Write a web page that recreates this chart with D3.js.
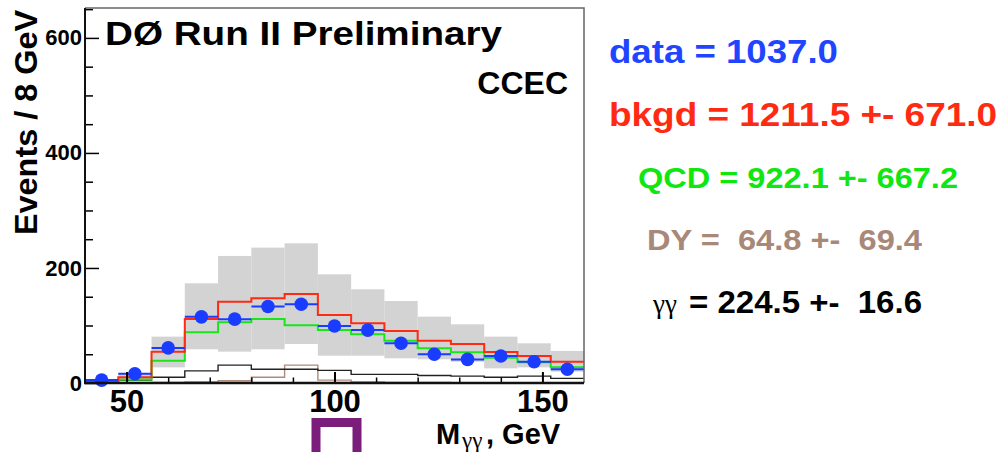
<!DOCTYPE html>
<html>
<head>
<meta charset="utf-8">
<script src="https://cdn.jsdelivr.net/npm/d3@7/dist/d3.min.js"></script>
<style>
  html, body { margin: 0; padding: 0; background: #fff; }
  svg { display: block; font-family: "Liberation Sans", Arial, Helvetica, sans-serif; }
  text { white-space: pre; }
</style>
</head>
<body>
<svg id="chart" width="1004" height="452"></svg>
<script>
// Diphoton invariant mass, CCEC category, 8 GeV bins from 40 to 160 GeV
const binEdges   = [40, 48, 56, 64, 72, 80, 88, 96, 104, 112, 120, 128, 136, 144, 152, 160];
const dataCounts = [5, 16, 61, 115, 111, 133, 137, 99, 92, 69, 50, 41, 47, 37, 24];
const bkgdTotal  = [2, 10, 54.5, 111.3, 141.4, 147.2, 154.8, 118.3, 103.8, 90.4, 73.6, 67.8, 53.9, 47, 37.1];
const qcdBkgd    = [1, 6, 38.8, 88.1, 105.5, 111.3, 100.3, 92.2, 84.6, 73.6, 60.3, 53.3, 44, 36, 27.2];
const dyBkgd     = [0, 0, 1, 2, 4, 10, 31, 5, 2, 1, 1, 0.5, 0.5, 0.5, 0.5];
const diphoton   = [0.5, 5, 10, 21, 31, 24, 24, 22, 15, 15, 13, 12, 10, 12, 8];
const bandUpper  = [4, 16, 80.6, 173.3, 220.9, 235.4, 242.9, 189, 162.9, 142.6, 115.4, 102, 80.6, 69, 55.7];
const bandLower  = [0, 3, 27.2, 58.6, 54.5, 58.6, 67.8, 47.5, 47.5, 42.9, 41.2, 37.1, 25.5, 27.2, 19.7];

const yMajorTicks = [0, 200, 400, 600];
const xMajorTicks = [50, 100, 150];

const titleText  = "DØ Run II Preliminary";
const regionText = "CCEC";
const yAxisTitle = "Events / 8 GeV";
const summaryData = "data = 1037.0";
const summaryBkgd = "bkgd = 1211.5 +- 671.0";
const summaryQcd  = "QCD = 922.1 +- 667.2";
const summaryDy   = "DY =  64.8 +-  69.4";
const summaryGgSymbol = "γγ";
const summaryGg   = "= 224.5 +-  16.6";

const svg = d3.select("#chart");

const x = d3.scaleLinear().domain([40, 160]).range([85, 584]);
const y = d3.scaleLinear().domain([0, 652]).range([383, 8]);

const bins = dataCounts.map((d, i) => ({
  lo: binEdges[i], hi: binEdges[i + 1], mid: (binEdges[i] + binEdges[i + 1]) / 2,
  data: d, up: bandUpper[i], low: bandLower[i]
}));

const plot = svg.append("g");

// uncertainty band on total background
plot.selectAll("rect.band").data(bins).join("rect")
  .attr("class", "band")
  .attr("x", d => x(d.lo))
  .attr("width", d => x(d.hi) - x(d.lo))
  .attr("y", d => y(d.up))
  .attr("height", d => y(d.low) - y(d.up))
  .attr("fill", "#d3d3d3");

// step histograms
const stepLine = d3.line().x(p => x(p[0])).y(p => y(p[1])).curve(d3.curveStepAfter);
function histPoints(values) {
  const pts = values.map((v, i) => [binEdges[i], v]);
  pts.push([binEdges[binEdges.length - 1], values[values.length - 1]]);
  return pts;
}
const histos = [
  { values: dyBkgd,    color: "#b08a78", width: 1.4 },
  { values: diphoton,  color: "#222222", width: 1.4 },
  { values: qcdBkgd,   color: "#19e619", width: 2 },
  { values: bkgdTotal, color: "#ff2a14", width: 2 }
];
histos.forEach(h => {
  plot.append("path")
    .attr("d", stepLine(histPoints(h.values)))
    .attr("fill", "none")
    .attr("stroke", h.color)
    .attr("stroke-width", h.width);
});

// data points with bin-width bars
const blue = "#1a3cff";
plot.selectAll("line.xerr").data(bins).join("line")
  .attr("class", "xerr")
  .attr("x1", d => x(d.lo)).attr("x2", d => x(d.hi))
  .attr("y1", d => y(d.data)).attr("y2", d => y(d.data))
  .attr("stroke", blue).attr("stroke-width", 2);
plot.selectAll("circle.pt").data(bins).join("circle")
  .attr("class", "pt")
  .attr("cx", d => x(d.mid)).attr("cy", d => y(d.data))
  .attr("r", 6.8).attr("fill", blue);

// axes
const fontAxis = g => g.selectAll("text")
  .attr("font-family", "Liberation Sans, Arial, sans-serif")
  .attr("font-weight", "bold").attr("fill", "#000");

const yMajor = d3.axisLeft(y).tickValues(yMajorTicks).tickSize(-14).tickPadding(3).tickFormat(d3.format("d"));
svg.append("g").attr("transform", `translate(${x(40)},0)`)
  .call(yMajor)
  .call(g => g.select(".domain").remove())
  .call(g => g.selectAll("line").attr("stroke", "#000").attr("stroke-width", 1.5))
  .call(g => g.selectAll("text").attr("font-size", 22))
  .call(fontAxis);

const yMinor = d3.axisLeft(y).tickValues(d3.range(50, 651, 50).filter(v => v % 200 !== 0)).tickSize(-8).tickFormat("");
svg.append("g").attr("transform", `translate(${x(40)},0)`)
  .call(yMinor)
  .call(g => g.select(".domain").remove())
  .call(g => g.selectAll("line").attr("stroke", "#000").attr("stroke-width", 1.5));

const xMajor = d3.axisBottom(x).tickValues(xMajorTicks).tickSize(-11).tickPadding(7).tickFormat(d3.format("d"));
svg.append("g").attr("transform", `translate(0,${y(0)})`)
  .call(xMajor)
  .call(g => g.select(".domain").remove())
  .call(g => g.selectAll("line").attr("stroke", "#000").attr("stroke-width", 2))
  .call(g => g.selectAll("text").attr("font-size", 31))
  .call(fontAxis);

const xMinor = d3.axisBottom(x).tickValues(d3.range(50, 160, 10).filter(v => v % 50 !== 0)).tickSize(-5.5).tickFormat("");
svg.append("g").attr("transform", `translate(0,${y(0)})`)
  .call(xMinor)
  .call(g => g.select(".domain").remove())
  .call(g => g.selectAll("line").attr("stroke", "#000").attr("stroke-width", 1.5));

// frame
svg.append("path")
  .attr("d", `M${x(40)},${y(652)} H${x(160)} V${y(0)}`)
  .attr("fill", "none").attr("stroke", "#666").attr("stroke-width", 1.5);
svg.append("line")
  .attr("x1", x(40)).attr("x2", x(40)).attr("y1", y(652)).attr("y2", y(0))
  .attr("stroke", "#111").attr("stroke-width", 2);
svg.append("line")
  .attr("x1", x(40) - 1).attr("x2", x(160)).attr("y1", y(0)).attr("y2", y(0))
  .attr("stroke", "#111").attr("stroke-width", 2.5);

// labels inside the frame
svg.append("text").attr("x", 105).attr("y", 45)
  .attr("font-size", 33).attr("font-weight", "bold")
  .attr("textLength", 397).attr("lengthAdjust", "spacingAndGlyphs")
  .text(titleText);
svg.append("text").attr("x", 568).attr("y", 94).attr("text-anchor", "end")
  .attr("font-size", 32).attr("font-weight", "bold")
  .text(regionText);

// axis titles
svg.append("text")
  .attr("transform", "translate(37,10) rotate(-90)")
  .attr("text-anchor", "end")
  .attr("font-size", 31).attr("font-weight", "bold")
  .attr("textLength", 225).attr("lengthAdjust", "spacingAndGlyphs")
  .text(yAxisTitle);

const xTitle = svg.append("text").attr("y", 444)
  .attr("font-size", 29).attr("font-weight", "bold");
xTitle.append("tspan").attr("x", 436).text("M");
xTitle.append("tspan").attr("x", 462).attr("font-family", "Liberation Serif, serif").attr("font-weight", "normal")
  .attr("font-size", 23).attr("dy", 4).text("γγ");
xTitle.append("tspan").attr("x", 486).attr("dy", -4).text(", GeV");

// marker box under the axis
svg.append("path")
  .attr("d", `M${x(100) - 18.5},460 V422.5 H${x(100) + 22.5} V460`)
  .attr("fill", "none").attr("stroke", "#7b1d7b").attr("stroke-width", 9);

// yield summary
const summary = [
  { t: summaryData, x: 609, y: 63,  size: 32.5, len: 229, color: "#1f45ff" },
  { t: summaryBkgd, x: 609, y: 126, size: 34,   len: 388, color: "#ff2a12" },
  { t: summaryQcd,  x: 638, y: 188, size: 30,   len: 320, color: "#10e610" },
  { t: summaryDy,   x: 647, y: 250, size: 30,   len: 275, color: "#a88878" }
];
summary.forEach(s => {
  svg.append("text").attr("x", s.x).attr("y", s.y)
    .attr("font-size", s.size).attr("font-weight", "bold").attr("fill", s.color)
    .attr("textLength", s.len).attr("lengthAdjust", "spacingAndGlyphs")
    .text(s.t);
});
svg.append("text").attr("x", 653).attr("y", 313)
  .attr("font-family", "Liberation Serif, serif").attr("font-size", 27).attr("fill", "#000")
  .text(summaryGgSymbol);
svg.append("text").attr("x", 689).attr("y", 313)
  .attr("font-size", 31).attr("font-weight", "bold").attr("fill", "#000")
  .attr("textLength", 233).attr("lengthAdjust", "spacingAndGlyphs")
  .text(summaryGg);
</script>
</body>
</html>
